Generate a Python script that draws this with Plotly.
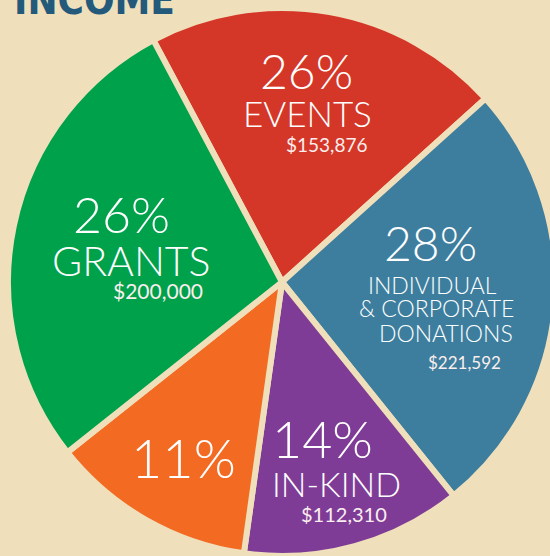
import plotly.graph_objects as go

categories = ["EVENTS", "INDIVIDUAL & CORPORATE DONATIONS", "IN-KIND", "OTHER", "GRANTS"]
slice_share = [21.1, 25.9, 13.0, 12.1, 27.9]
pct_labels = ["26%", "28%", "14%", "11%", "26%"]
name_labels = [["EVENTS"], ["INDIVIDUAL", "& CORPORATE", "DONATIONS"], ["IN-KIND"], [], ["GRANTS"]]
amount_labels = ["$153,876", "$221,592", "$112,310", "", "$200,000"]
colors = ["#d43728", "#3d7e9e", "#7e3c96", "#f36a23", "#00a14b"]

BG = "#f0dfbb"
W, H = 556, 556
FONT = "Lato, Open Sans, sans-serif"

fig = go.Figure(go.Pie(
    labels=categories,
    values=slice_share,
    sort=False,
    direction="clockwise",
    rotation=332,
    marker=dict(colors=colors, line=dict(color=BG, width=6)),
    textinfo="none",
    hoverinfo="skip",
    showlegend=False,
    domain=dict(x=[8 / W, 1], y=[0, 548 / H]),
))

def px(x):
    return x / W

def py(y):
    return 1 - y / H

annots = []
def add(text, x, y, size, color="white", weight=300):
    annots.append(dict(text=text, x=px(x), y=py(y), xref="paper", yref="paper",
                       xanchor="center", yanchor="middle", showarrow=False,
                       borderpad=0,
                       font=dict(family=FONT, size=size, color=color, weight=weight)))

# label placements: (pct center, name line centers, amount center)
place = [
    dict(p=(306, 71, 48), n=[(307, 113, 35)], a=(326, 145, 19)),
    dict(p=(430, 243, 48), n=[(432, 285, 23), (436, 308, 23), (446, 333, 23)], a=(464, 362, 17)),
    dict(p=(322, 438, 52), n=[(336, 483, 34)], a=(344, 514, 20)),
    dict(p=(183, 457, 54), n=[], a=None),
    dict(p=(121, 214, 50), n=[(131, 260, 41)], a=(158, 290, 21)),
]
for i, pl in enumerate(place):
    x, y, s = pl["p"]
    add(pct_labels[i], x, y, s)
    for txt, (x, y, s) in zip(name_labels[i], pl["n"]):
        add(txt, x, y, s)
    if pl["a"]:
        x, y, s = pl["a"]
        add(amount_labels[i], x, y, s, color="#fbeeee", weight=400)

# cropped title
annots.append(dict(text="<b>INCOME</b>", x=px(12), y=py(25), xref="paper", yref="paper",
                   xanchor="left", yanchor="bottom", showarrow=False,
                   font=dict(family="DejaVu Sans Condensed, DejaVu Sans", size=40, color="#23597a")))

fig.update_layout(
    width=W, height=H,
    margin=dict(l=0, r=0, t=0, b=0),
    paper_bgcolor=BG, plot_bgcolor=BG,
    annotations=annots,
)

fig.write_html("out.html", post_script=(
    "document.documentElement.style.overflow='hidden';"
    "document.body.style.overflow='hidden';"
    "document.body.style.margin='0';"
))
